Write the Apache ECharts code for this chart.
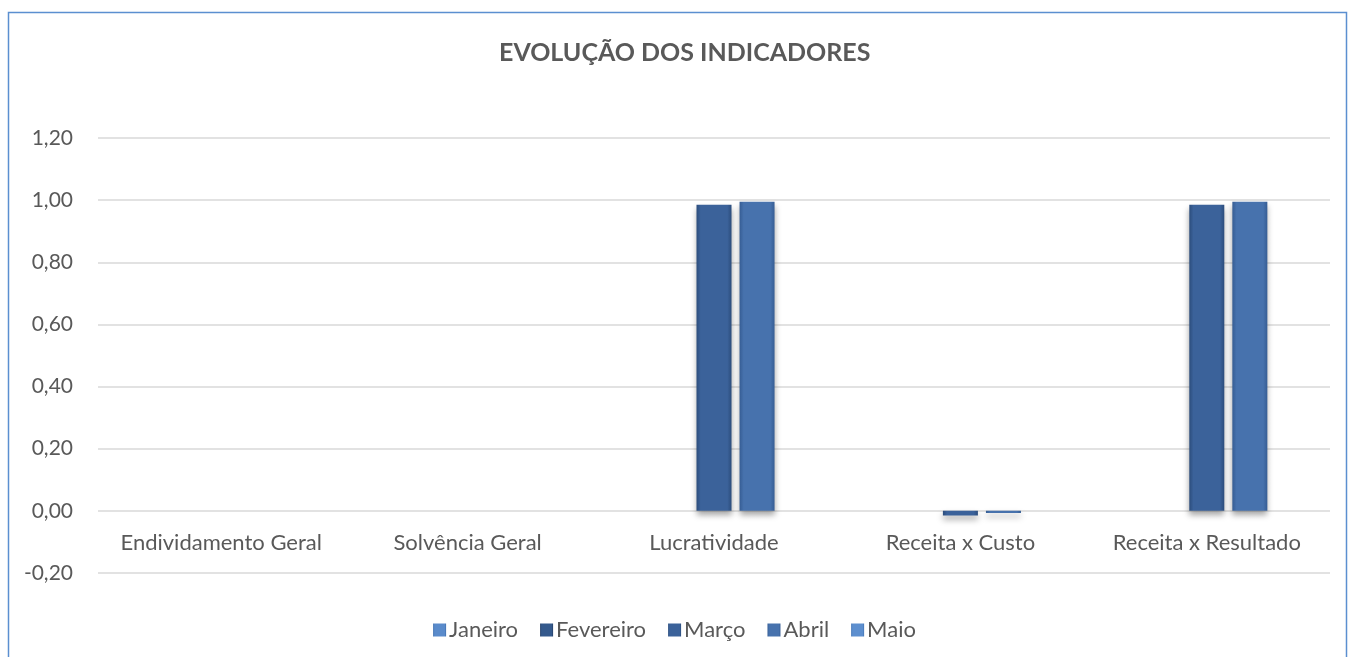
<!DOCTYPE html>
<html>
<head>
<meta charset="utf-8">
<script src="https://cdn.jsdelivr.net/npm/echarts@6/dist/echarts.min.js"></script>
<style>
html,body{margin:0;padding:0;background:#fff;}
#chart{width:1349px;height:657px;}
</style>
</head>
<body>
<div id="chart"></div>
<script>
var categories = ['Endividamento Geral', 'Solvência Geral', 'Lucratividade', 'Receita x Custo', 'Receita x Resultado'];
var seriesNames = ['Janeiro', 'Fevereiro', 'Março', 'Abril', 'Maio'];
var janeiro = [0, 0, 0, 0, 0];
var fevereiro = [0, 0, 0, 0, 0];
var marco = [0, 0, 0.985, -0.015, 0.985];
var abril = [0, 0, 0.995, -0.007, 0.995];
var maio = [0, 0, 0, 0, 0];
var yTicks = [-0.2, 0, 0.2, 0.4, 0.6, 0.8, 1.0, 1.2];

var FONT = 'Lato, "Open Sans", sans-serif';
var baseColors = [
  ['#3f6fae', '#5a8bcb'],
  ['#243f66', '#34598c'],
  ['#2c4d7c', '#3b629a'],
  ['#365d94', '#4772ad'],
  ['#4274b4', '#5d8fcf']
];
function grad(c) {
  return new echarts.graphic.LinearGradient(0, 0, 1, 0, [
    {offset: 0, color: c[0]},
    {offset: 0.12, color: c[1]},
    {offset: 0.88, color: c[1]},
    {offset: 1, color: c[0]}
  ]);
}
var dataArr = [janeiro, fevereiro, marco, abril, maio];
var series = seriesNames.map(function (n, i) {
  return {
    name: n,
    type: 'bar',
    data: dataArr[i],
    barWidth: 35,
    barGap: '23%',
    itemStyle: {
      color: grad(baseColors[i]),
      borderWidth: 0,
      shadowBlur: 6,
      shadowColor: 'rgba(0,0,0,0.35)',
      shadowOffsetY: 4
    }
  };
});

var chart = echarts.init(document.getElementById('chart'));
chart.setOption({
  animation: false,
  backgroundColor: '#fff',
  graphic: [{
    type: 'rect',
    shape: {x: 8.5, y: 12.5, width: 1338, height: 700},
    style: {fill: 'none', stroke: '#5b8fd0', lineWidth: 1.5},
    silent: true
  }],
  title: {
    text: 'EVOLUÇÃO DOS INDICADORES',
    left: 494,
    top: 35,
    textStyle: {fontFamily: FONT, fontWeight: 'bold', fontSize: 25, color: '#595959'}
  },
  legend: {
    data: seriesNames,
    left: 'center',
    top: 614,
    itemWidth: 13,
    itemHeight: 13,
    itemGap: 22,
    icon: 'rect',
    textStyle: {fontFamily: FONT, fontSize: 22, color: '#595959', padding: [0, 0, 0, -2]}
  },
  grid: {left: 98, right: 19, top: 138, bottom: 84, containLabel: false},
  xAxis: {
    type: 'category',
    data: categories,
    axisLine: {show: false, onZero: false},
    axisTick: {show: false},
    axisLabel: {interval: 0, hideOverlap: false, fontFamily: FONT, fontSize: 22, color: '#595959', margin: -41}
  },
  yAxis: {
    type: 'value',
    min: -0.2,
    max: 1.2,
    interval: 0.2,
    axisLine: {show: false},
    axisTick: {show: false},
    splitLine: {lineStyle: {color: '#d9d9d9', width: 1.5}},
    axisLabel: {
      fontFamily: FONT, fontSize: 21, color: '#595959', margin: 25,
      formatter: function (v) { return v.toFixed(2).replace('.', ','); }
    }
  },
  series: series
});
</script>
</body>
</html>
